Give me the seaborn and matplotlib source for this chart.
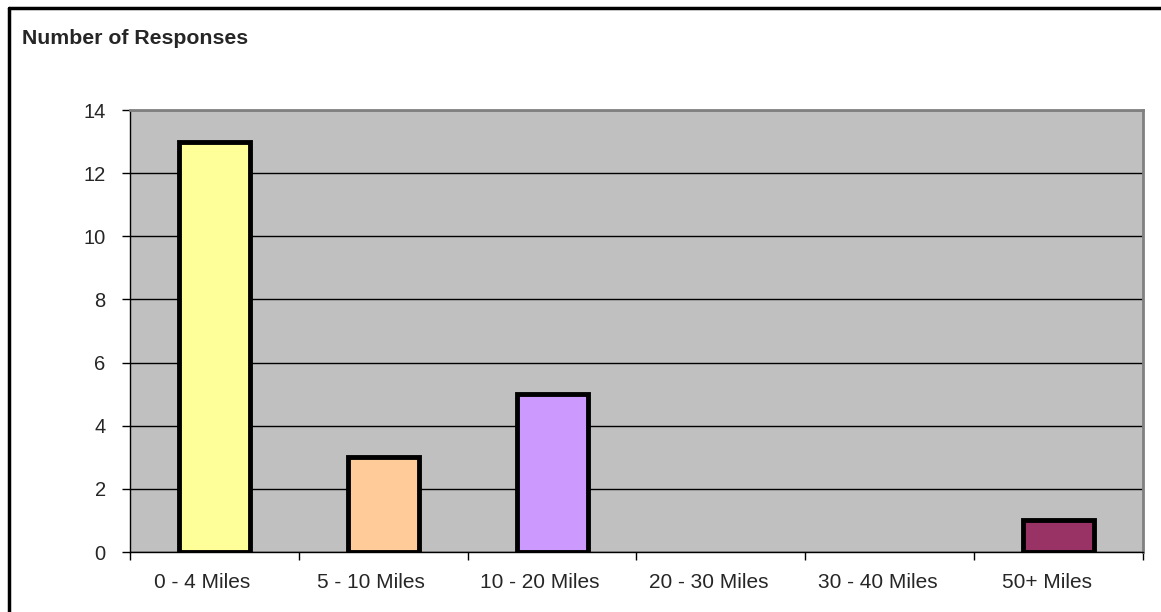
import matplotlib
matplotlib.use("Agg")
import matplotlib.pyplot as plt
import matplotlib.transforms as mtransforms
import seaborn as sns
import pandas as pd
from matplotlib.lines import Line2D

categories = ["0 - 4 Miles", "5 - 10 Miles", "10 - 20 Miles", "20 - 30 Miles", "30 - 40 Miles", "50+ Miles"]
responses = [13, 3, 5, 0, 0, 1]
bar_colors = ["#FFFF99", "#FFCC99", "#CC99FF", "#99CCFF", "#CCFFCC", "#993366"]
y_ticks = [0, 2, 4, 6, 8, 10, 12, 14]

sns.set_theme(style="white")
plt.rcParams["font.family"] = ["Liberation Sans", "DejaVu Sans"]

df = pd.DataFrame({"distance": categories, "responses": responses})

fig = plt.figure(figsize=(11.61, 6.12), dpi=100)
ax = fig.add_axes([130 / 1161, 1 - 552 / 612, (1143 - 130) / 1161, (552 - 110) / 612])
ax.set_facecolor("#C0C0C0")

sns.barplot(data=df, x="distance", y="responses", hue="distance", palette=bar_colors,
            saturation=1, legend=False, width=0.42, edgecolor="black", linewidth=3.5,
            ax=ax, zorder=3)
for p in ax.patches:
    if p.get_height() == 0:
        p.set_linewidth(0)

ax.set_ylim(0, 14)
ax.set_xlim(-0.5, len(categories) - 0.5)
ax.set_yticks(y_ticks)
ax.yaxis.grid(True, color="black", linewidth=1)
ax.set_axisbelow(True)
ax.set_xlabel("")
ax.set_ylabel("")

# category labels under each bar, tick marks between categories
ax.set_xticks(range(len(categories)))
ax.set_xticklabels(categories, fontsize=15)
ax.tick_params(axis="x", which="major", length=0, pad=15)
shift = mtransforms.ScaledTranslation(-12 / 100, 0, fig.dpi_scale_trans)
for lbl in ax.get_xticklabels():
    lbl.set_transform(lbl.get_transform() + shift)
ax.set_xticks([i - 0.5 for i in range(len(categories) + 1)], minor=True)
ax.tick_params(axis="x", which="minor", length=5.5, width=1, color="black", bottom=True)
ax.tick_params(axis="y", length=5.5, width=1, color="black", left=True, labelsize=14.5, pad=12)

for side in ["left", "bottom"]:
    ax.spines[side].set_color("black")
    ax.spines[side].set_linewidth(1)
for side in ["top", "right"]:
    ax.spines[side].set_color("#808080")
    ax.spines[side].set_linewidth(2)

fig.text(22 / 1161, 1 - 38 / 612, "Number of Responses", fontsize=15.3, fontweight="bold",
         va="center", ha="left")

# chart frame
fig.add_artist(Line2D([9 / 1161, 9 / 1161], [0, 1 - 8 / 612], transform=fig.transFigure,
                      color="black", linewidth=2.5))
fig.add_artist(Line2D([9 / 1161, 1], [1 - 8 / 612, 1 - 8 / 612], transform=fig.transFigure,
                      color="black", linewidth=2.5))

fig.savefig("out.png", dpi=100)
